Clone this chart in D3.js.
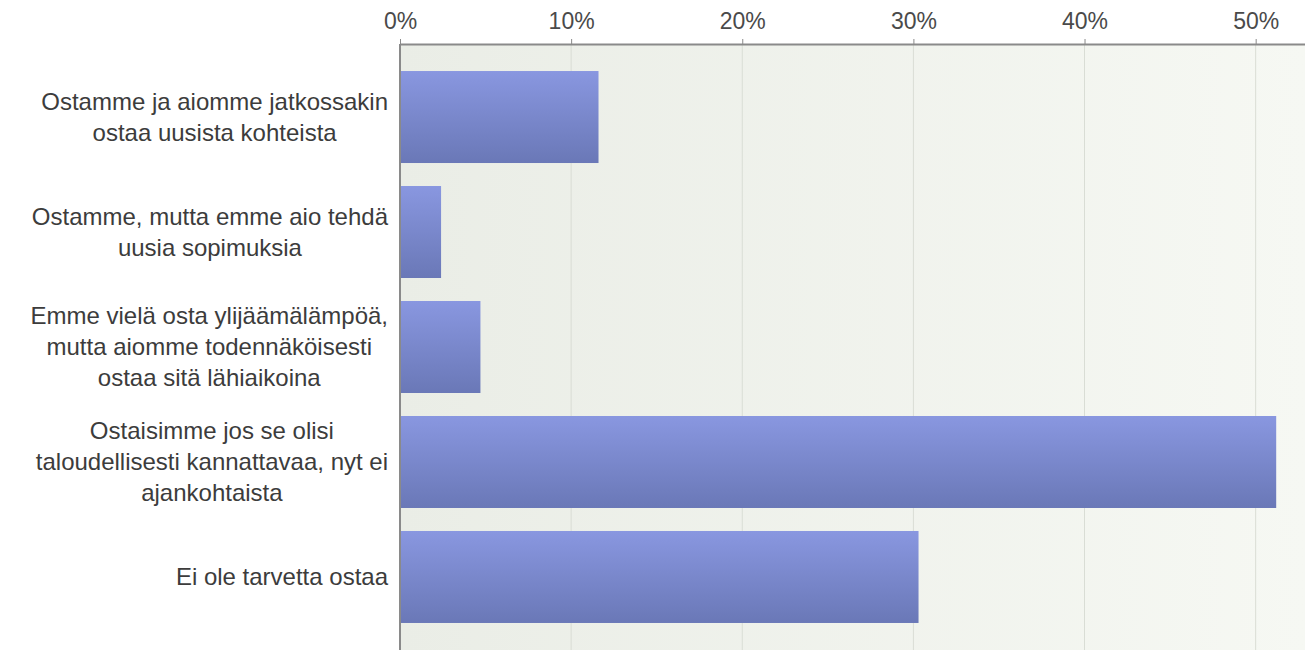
<!DOCTYPE html>
<html>
<head>
<meta charset="utf-8">
<script src="https://cdn.jsdelivr.net/npm/d3@7"></script>
<style>
  html, body { margin: 0; padding: 0; background: #fff; }
  svg { display: block; }
</style>
</head>
<body>
<div id="chart"></div>
<script>
// Answers (Finnish survey) and their shares in percent
const categories = [
    ["Ostamme ja aiomme jatkossakin", "ostaa uusista kohteista"],
    ["Ostamme, mutta emme aio tehdä", "uusia sopimuksia"],
    ["Emme vielä osta ylijäämälämpöä,", "mutta aiomme todennäköisesti", "ostaa sitä lähiaikoina"],
    ["Ostaisimme jos se olisi", "taloudellisesti kannattavaa, nyt ei", "ajankohtaista"],
    ["Ei ole tarvetta ostaa"]
];
const values = [11.6, 2.4, 4.7, 51.2, 30.3];
const tickValues = [0, 10, 20, 30, 40, 50];

const W = 1305, H = 653;
const plot = { left: 400, top: 44, right: 1307, bottom: 650 };
const FONT = "'Liberation Sans', Arial, sans-serif";

const svg = d3.select("#chart").append("svg")
    .attr("width", W)
    .attr("height", H);

const x = d3.scaleLinear()
    .domain([0, 53])
    .range([plot.left, plot.right]);

const y = d3.scaleBand()
    .domain(d3.range(categories.length))
    .range([plot.top, plot.bottom])
    .paddingInner(0.2)
    .paddingOuter(0.235);

const defs = svg.append("defs");

// plot background, slightly darker on the left
const bg = defs.append("linearGradient")
    .attr("id", "bg-grad")
    .attr("x1", "0%").attr("y1", "0%").attr("x2", "100%").attr("y2", "0%");
bg.append("stop").attr("offset", "0%").attr("stop-color", "#eaede6");
bg.append("stop").attr("offset", "100%").attr("stop-color", "#f6f8f3");

const barGrad = defs.append("linearGradient")
    .attr("id", "bar-grad")
    .attr("x1", "0%").attr("y1", "0%").attr("x2", "0%").attr("y2", "100%");
barGrad.append("stop").attr("offset", "0%").attr("stop-color", "#8997e0");
barGrad.append("stop").attr("offset", "100%").attr("stop-color", "#6a78b7");

svg.append("rect")
    .attr("x", plot.left)
    .attr("y", plot.top)
    .attr("width", W - plot.left)
    .attr("height", plot.bottom - plot.top)
    .attr("fill", "url(#bg-grad)");

// vertical gridlines
svg.selectAll(".grid")
    .data(tickValues.slice(1))
    .join("line")
    .attr("class", "grid")
    .attr("x1", d => x(d))
    .attr("x2", d => x(d))
    .attr("y1", plot.top)
    .attr("y2", plot.bottom)
    .attr("stroke", "#d9ddd5")
    .attr("stroke-width", 1);

// bars
svg.selectAll(".bar")
    .data(values)
    .join("rect")
    .attr("class", "bar")
    .attr("x", x(0))
    .attr("y", (d, i) => y(i))
    .attr("width", d => x(d) - x(0))
    .attr("height", y.bandwidth())
    .attr("fill", "url(#bar-grad)");

// top axis
const axis = svg.append("g")
    .attr("transform", `translate(0,${plot.top})`)
    .call(d3.axisTop(x)
        .tickValues(tickValues)
        .tickFormat(d => d + "%")
        .tickSize(5)
        .tickSizeOuter(0));
axis.select(".domain")
    .attr("stroke", "#8a8a8a")
    .attr("stroke-width", 2);
axis.selectAll(".tick line").attr("stroke", "#8a8a8a");
axis.selectAll(".tick text")
    .attr("y", -15)
    .style("font-family", FONT)
    .style("font-size", "23px")
    .attr("fill", "#4a4a4a");

// left axis line
svg.append("line")
    .attr("x1", plot.left)
    .attr("x2", plot.left)
    .attr("y1", plot.top)
    .attr("y2", plot.bottom)
    .attr("stroke", "#8a8a8a")
    .attr("stroke-width", 2);

// category labels: each block right-aligned, lines centred within it
const lineH = 31;
const labelRight = 388;
categories.forEach((lines, i) => {
    const cy = y(i) + y.bandwidth() / 2;
    const g = svg.append("g");
    const texts = lines.map((ln, j) => g.append("text")
        .attr("y", cy + (j - (lines.length - 1) / 2) * lineH)
        .attr("dy", "0.35em")
        .attr("text-anchor", "middle")
        .style("font-family", FONT)
        .style("font-size", "24px")
        .attr("fill", "#3c3c3c")
        .text(ln));
    const maxW = d3.max(texts, t => t.node().getComputedTextLength());
    texts.forEach(t => t.attr("x", labelRight - maxW / 2));
});
</script>
</body>
</html>
